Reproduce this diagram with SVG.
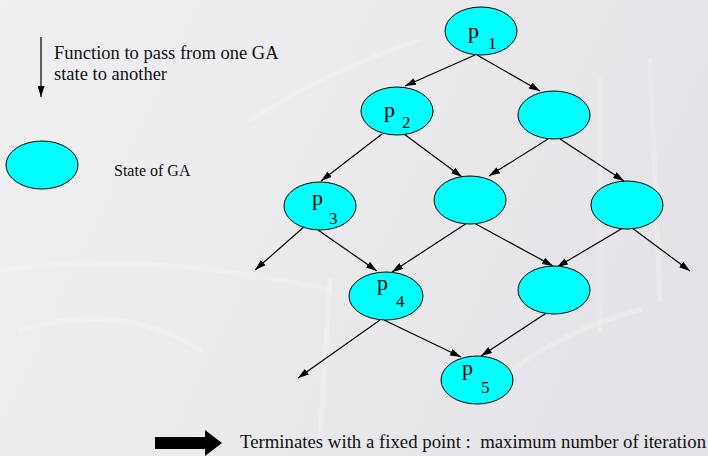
<svg xmlns="http://www.w3.org/2000/svg" width="708" height="456" viewBox="0 0 708 456">
<defs>
<linearGradient id="bg" x1="0" y1="0" x2="1" y2="0.3">
<stop offset="0" stop-color="#f0f0f2"/>
<stop offset="0.45" stop-color="#ececef"/>
<stop offset="1" stop-color="#e4e4e8"/>
</linearGradient>
<marker id="ah" viewBox="0 0 11 7" refX="11" refY="3.5" markerWidth="11" markerHeight="7" markerUnits="userSpaceOnUse" orient="auto">
<path d="M0,0 L11,3.5 L0,7 z" fill="#000"/>
</marker>
<style>
.node{fill:#00ffff;stroke:#000;stroke-width:1}
.edge{stroke:#000;stroke-width:1.2;fill:none;marker-end:url(#ah)}
.t{font-family:"Liberation Serif","Times New Roman",serif;fill:#111}
.p{font-family:"Liberation Serif","Times New Roman",serif;font-size:22px;fill:#000}
.s{font-family:"Liberation Serif","Times New Roman",serif;font-size:17px;fill:#000}
.tex{fill:none;stroke:#ffffff;stroke-opacity:0.22;stroke-width:5;stroke-linecap:round}
</style>
</defs>
<rect width="708" height="456" fill="url(#bg)"/>
<g id="texture">
<path class="tex" d="M250,120 Q330,70 420,40"/>
<path class="tex" d="M600,80 L600,330" stroke-width="4"/>
<path class="tex" d="M650,60 L660,300" stroke-width="5"/>
<path class="tex" d="M0,270 Q150,250 330,290" stroke-width="4"/>
<path class="tex" d="M330,280 L320,440" stroke-width="3"/>
<path class="tex" d="M500,380 Q560,330 640,310" stroke-width="3"/>
<path class="tex" d="M20,330 Q120,300 200,350" stroke-width="3"/>
</g>
<g id="legend-arrow">
<line class="edge" x1="41" y1="37" x2="41" y2="97"/>
<text class="t" font-size="18.5" x="54" y="59">Function to pass from one GA</text>
<text class="t" font-size="18.5" x="54" y="80">state to another</text>
</g>
<g id="legend-state">
<ellipse class="node" cx="42" cy="165" rx="36" ry="24"/>
<text class="t" font-size="16" x="114" y="176">State of GA</text>
</g>
<g id="connectors">
<line class="edge" x1="475" y1="55" x2="405" y2="86"/>
<line class="edge" x1="477" y1="55" x2="540" y2="91"/>
<line class="edge" x1="382" y1="134" x2="321" y2="181"/>
<line class="edge" x1="404" y1="134" x2="462" y2="177"/>
<line class="edge" x1="548" y1="139" x2="489" y2="176"/>
<line class="edge" x1="560" y1="139" x2="624" y2="181"/>
<line class="edge" x1="305" y1="226" x2="255" y2="270"/>
<line class="edge" x1="318" y1="230" x2="377" y2="271"/>
<line class="edge" x1="467" y1="223" x2="392" y2="272"/>
<line class="edge" x1="474" y1="223" x2="553" y2="266"/>
<line class="edge" x1="628" y1="225" x2="557" y2="267"/>
<line class="edge" x1="624" y1="222" x2="690" y2="271"/>
<line class="edge" x1="380" y1="320" x2="298" y2="378"/>
<line class="edge" x1="384" y1="320" x2="461" y2="357"/>
<line class="edge" x1="554" y1="308" x2="481" y2="356"/>
</g>
<g id="p1">
<ellipse class="node" cx="481" cy="31" rx="36" ry="24"/>
<text class="p" x="468" y="38">p</text><text class="s" x="488" y="49">1</text>
</g>
<g id="p2">
<ellipse class="node" cx="397" cy="111" rx="36" ry="24"/>
<text class="p" x="384" y="117">p</text><text class="s" x="402" y="128">2</text>
</g>
<g id="s2b">
<ellipse class="node" cx="554" cy="115" rx="36" ry="24"/>
</g>
<g id="p3">
<ellipse class="node" cx="320" cy="206" rx="36" ry="24"/>
<text class="p" x="312" y="205">p</text><text class="s" x="329" y="224">3</text>
</g>
<g id="s3b">
<ellipse class="node" cx="470" cy="200" rx="36" ry="24"/>
</g>
<g id="s3c">
<ellipse class="node" cx="627" cy="205" rx="36" ry="24"/>
</g>
<g id="p4">
<ellipse class="node" cx="386" cy="296" rx="37" ry="24"/>
<text class="p" x="377" y="290">p</text><text class="s" x="396" y="307">4</text>
</g>
<g id="s4b">
<ellipse class="node" cx="554" cy="290" rx="36" ry="24"/>
</g>
<g id="p5">
<ellipse class="node" cx="477" cy="380" rx="36" ry="24"/>
<text class="p" x="462" y="375">p</text><text class="s" x="481" y="393">5</text>
</g>
<g id="termination">
<polygon points="155,437 205,437 205,430 222,443 205,456 205,449 155,449" fill="#000"/>
<text class="t" font-size="18.8" x="240" y="448" xml:space="preserve">Terminates with a fixed point :  maximum number of iteration</text>
</g>
</svg>
